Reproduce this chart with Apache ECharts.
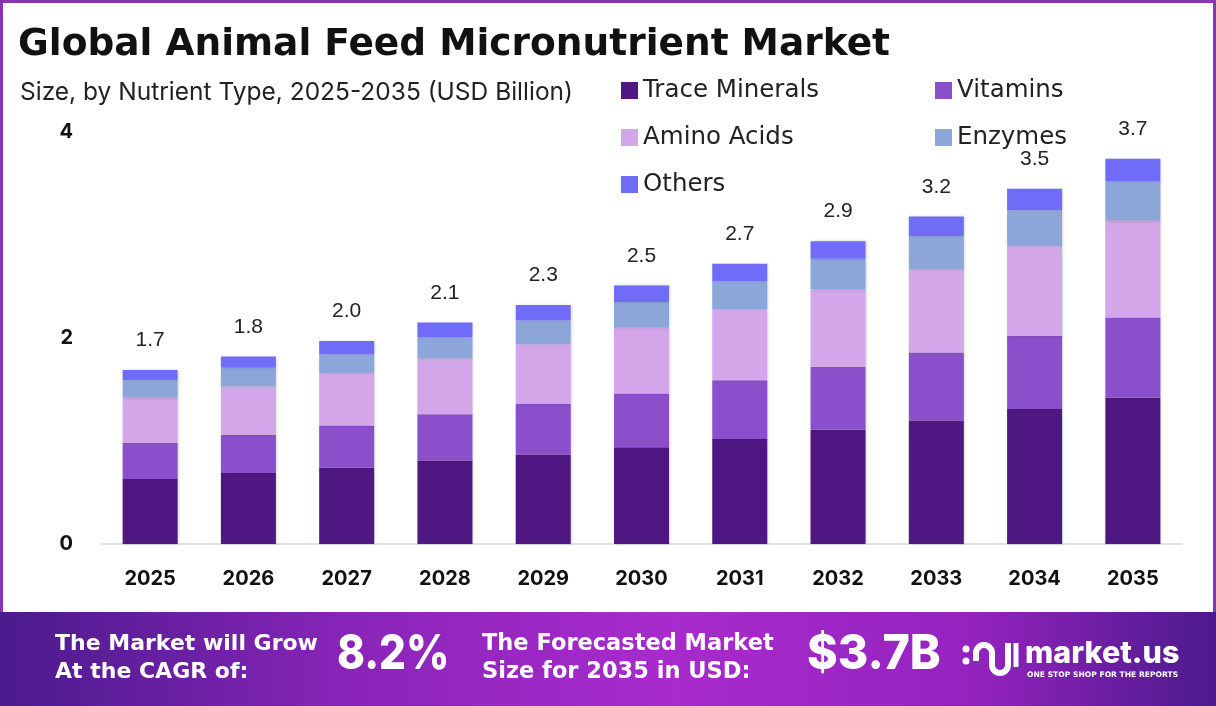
<!DOCTYPE html>
<html>
<head>
<meta charset="utf-8">
<script src="https://cdn.jsdelivr.net/npm/echarts@6/dist/echarts.min.js"></script>
<style>
html,body{margin:0;padding:0;background:#fff;}
#c{width:1216px;height:706px;}
</style>
</head>
<body>
<div id="c"></div>
<script>
const years = ['2025','2026','2027','2028','2029','2030','2031','2032','2033','2034','2035'];
const traceMinerals = [0.63,0.69,0.74,0.81,0.87,0.94,1.02,1.11,1.20,1.31,1.42];
const vitamins      = [0.35,0.37,0.41,0.45,0.49,0.52,0.57,0.61,0.66,0.71,0.78];
const aminoAcids    = [0.44,0.47,0.51,0.54,0.58,0.64,0.69,0.75,0.81,0.87,0.94];
const enzymes       = [0.17,0.18,0.18,0.21,0.23,0.25,0.27,0.30,0.32,0.35,0.38];
const others        = [0.10,0.11,0.13,0.14,0.15,0.16,0.17,0.17,0.19,0.21,0.22];
const totals        = ['1.7','1.8','2.0','2.1','2.3','2.5','2.7','2.9','3.2','3.5','3.7'];
const yTicks = [0,2,4];

const names = ['Trace Minerals','Vitamins','Amino Acids','Enzymes','Others'];
const colors = ['#4f1782','#8b4fcc','#d3a6ea','#8ca6da','#716cf8'];
const seriesData = [traceMinerals, vitamins, aminoAcids, enzymes, others];

const FONT = 'Inter, "Noto Sans", sans-serif';
const WIDE = '"DejaVu Sans", Inter, sans-serif';

const chart = echarts.init(document.getElementById('c'), null, {renderer:'canvas'});

const series = names.map((n,i)=>({
  name:n, type:'bar', stack:'total', barWidth:'56%',
  data: seriesData[i],
  itemStyle:{color:colors[i], shadowColor:'rgba(0,0,0,0.18)', shadowBlur:3, shadowOffsetX:1},
  emphasis:{disabled:true},
  label: i===4 ? {
    show:true, position:'top', distance:19,
    formatter:(p)=>totals[p.dataIndex],
    fontFamily:'"Liberation Sans", Arial, sans-serif', fontSize:21, color:'#222'
  } : {show:false}
}));

const legendText = {fontFamily:WIDE, fontSize:24.5, color:'#222', lineHeight:24};
const shadow = {shadowBlur:4, shadowColor:'rgba(0,0,0,0.4)', shadowOffsetX:2, shadowOffsetY:2};

chart.setOption({
  backgroundColor:'#ffffff',
  animation:false,
  title:[
    {text:'Global Animal Feed Micronutrient Market', left:13, top:21,
     textStyle:{fontFamily:WIDE, fontWeight:700, fontSize:37.5, color:'#111'}},
    {text:'Size, by Nutrient Type, 2025-2035 (USD Billion)', left:15, top:75,
     textStyle:{fontFamily:FONT, fontWeight:400, fontSize:24.5, color:'#222'}}
  ],
  legend:[
    {data:['Trace Minerals','Amino Acids','Others'], orient:'vertical', left:616, top:73,
     icon:'rect', itemWidth:17, itemHeight:17, itemGap:22, selectedMode:false, textStyle:legendText},
    {data:['Vitamins','Enzymes'], orient:'vertical', left:930, top:73,
     icon:'rect', itemWidth:17, itemHeight:17, itemGap:22, selectedMode:false, textStyle:legendText}
  ],
  grid:{left:101, right:34, top:132, bottom:162},
  xAxis:{type:'category', data:years,
    axisLine:{lineStyle:{color:'#d8d8d8', width:1.5}}, axisTick:{show:false},
    axisLabel:{fontFamily:FONT, fontWeight:700, fontSize:20, color:'#111', margin:25}},
  yAxis:{type:'value', min:0, max:4, interval:2,
    axisLine:{show:false}, axisTick:{show:false}, splitLine:{show:false},
    axisLabel:{fontFamily:FONT, fontWeight:700, fontSize:20, color:'#111', margin:28,
      formatter:(v)=> yTicks.includes(v) ? String(v) : ''}},
  series: series,
  graphic:[
    {type:'rect', shape:{x:1.5,y:1.5,width:1213,height:612}, silent:true,
     style:{fill:'none', stroke:'#8a35b0', lineWidth:3}, z:-1},
    {type:'rect', shape:{x:0,y:612,width:1216,height:94}, silent:true,
     style:{fill:new echarts.graphic.LinearGradient(0,0,1,0,[
       {offset:0,color:'#4a1b8c'},{offset:0.3,color:'#8b25ba'},{offset:0.55,color:'#a82bcc'},
       {offset:0.8,color:'#9423be'},{offset:1,color:'#4c1a8c'}])}},
    {type:'text', x:55, y:630, silent:true,
     style:Object.assign({text:'The Market will Grow\nAt the CAGR of:', fill:'#fff', font:'700 22px "DejaVu Sans", sans-serif', lineHeight:28}, shadow)},
    {type:'text', x:337, y:631, scaleX:0.88, silent:true,
     style:Object.assign({text:'8.2%', fill:'#fff', font:'800 48px Inter, sans-serif'}, shadow)},
    {type:'text', x:482, y:630, silent:true,
     style:Object.assign({text:'The Forecasted Market\nSize for 2035 in USD:', fill:'#fff', font:'700 22.5px "DejaVu Sans", sans-serif', lineHeight:28}, shadow)},
    {type:'text', x:807, y:631, scaleX:0.97, silent:true,
     style:Object.assign({text:'$3.7B', fill:'#fff', font:'800 48px Inter, sans-serif'}, shadow)},
    {type:'circle', x:962, y:641, silent:true, shape:{cx:4,cy:8,r:3.5}, style:{fill:'#fff'}},
    {type:'circle', x:962, y:641, silent:true, shape:{cx:4,cy:20,r:3.5}, style:{fill:'#fff'}},
    {type:'arc', x:962, y:641, silent:true, shape:{cx:22,cy:12,r:8,startAngle:Math.PI,endAngle:2*Math.PI,clockwise:true}, style:{fill:'none',stroke:'#fff',lineWidth:6}},
    {type:'line', x:962, y:641, silent:true, shape:{x1:14,y1:12,x2:14,y2:20}, style:{stroke:'#fff',lineWidth:6}},
    {type:'line', x:962, y:641, silent:true, shape:{x1:30,y1:12,x2:30,y2:24}, style:{stroke:'#fff',lineWidth:6}},
    {type:'arc', x:962, y:641, silent:true, shape:{cx:38,cy:24,r:8,startAngle:0,endAngle:Math.PI,clockwise:true}, style:{fill:'none',stroke:'#fff',lineWidth:6}},
    {type:'line', x:962, y:641, silent:true, shape:{x1:46,y1:2,x2:46,y2:24}, style:{stroke:'#fff',lineWidth:6}},
    {type:'line', x:962, y:641, silent:true, shape:{x1:54,y1:2,x2:54,y2:26}, style:{stroke:'#fff',lineWidth:5}},
    {type:'text', x:1025, y:638, silent:true,
     style:{text:'market.us', fill:'#fff', font:'800 30.5px Inter, sans-serif'}},
    {type:'text', x:1027, y:671, silent:true,
     style:{text:'ONE STOP SHOP FOR THE REPORTS', fill:'#fff', font:'700 7.6px "DejaVu Sans", sans-serif'}}
  ]
});
</script>
</body>
</html>
